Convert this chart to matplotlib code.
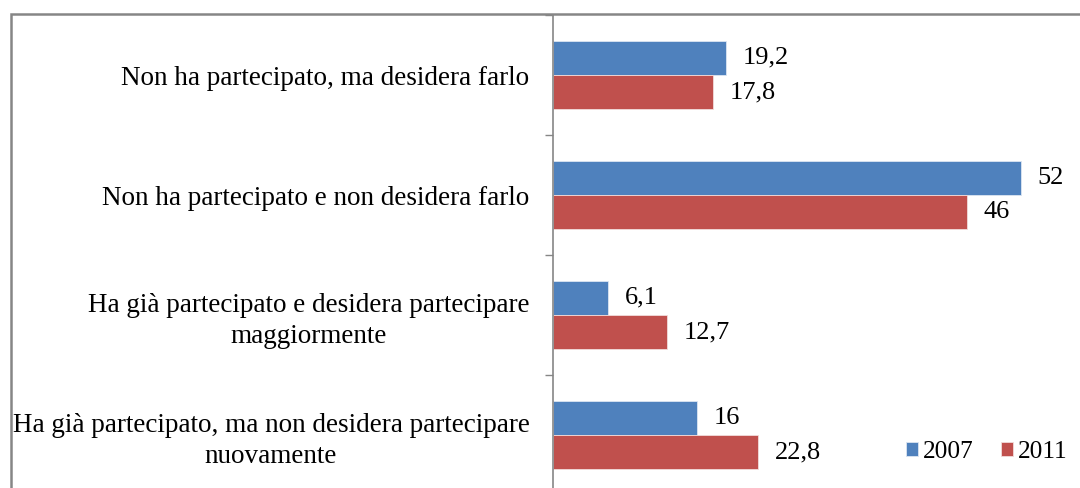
import numpy as np
import matplotlib
matplotlib.use("Agg")
import matplotlib.pyplot as plt
from matplotlib.patches import Rectangle

categories = [
    "Non ha partecipato, ma desidera farlo",
    "Non ha partecipato e non desidera farlo",
    "Ha già partecipato e desidera partecipare\nmaggiormente",
    "Ha già partecipato, ma non desidera partecipare\nnuovamente",
]
series_names = ["2007", "2011"]
values_2007 = [19.2, 52, 6.1, 16]
values_2011 = [17.8, 46, 12.7, 22.8]
value_labels_2007 = ["19,2", "52", "6,1", "16"]
value_labels_2011 = ["17,8", "46", "12,7", "22,8"]

blue = "#4F81BD"
red = "#C0504D"
W, H = 1080, 488
plt.rcParams['font.family'] = ['Liberation Serif', 'DejaVu Serif']

fig = plt.figure(figsize=(W / 100, H / 100), dpi=100)
left_px, top_px, bot_px, right_px = 553, 15, 495, 1093
ax = fig.add_axes([left_px / W, (H - bot_px) / H, (right_px - left_px) / W, (bot_px - top_px) / H])

# outer chart border
fig.patches.append(Rectangle((11 / W, -0.1), 1.2, (H - 14) / H + 0.1, transform=fig.transFigure,
                             fill=False, edgecolor="#868686", linewidth=1.8, zorder=0))

y = np.arange(len(categories))
h = 0.285
b1 = ax.barh(y - h / 2, values_2007, height=h, color=blue, edgecolor="#dce6f2", linewidth=0.6, label=series_names[0])
b2 = ax.barh(y + h / 2, values_2011, height=h, color=red, edgecolor="#f2dcdb", linewidth=0.6, label=series_names[1])

for bars, labs in ((b1, value_labels_2007), (b2, value_labels_2011)):
    for rect, lab in zip(bars, labs):
        ax.annotate(lab, (rect.get_width(), rect.get_y() + rect.get_height() / 2),
                    xytext=(12, 0), textcoords="offset points", va="center", ha="left", fontsize=19)

ax.set_xlim(0, 60)
ax.set_ylim(len(categories) - 0.5, -0.5)
ax.set_yticks(y)
ax.set_yticklabels(categories, fontsize=19.5, multialignment="center", linespacing=1.3)
ax.tick_params(axis="y", which="major", length=0, pad=17)
ax.set_yticks(np.arange(len(categories) + 1) - 0.5, minor=True)
ax.tick_params(axis="y", which="minor", length=6, color="#868686", width=1)
ax.set_xticks([])
for s in ("top", "right", "bottom"):
    ax.spines[s].set_visible(False)
ax.spines["left"].set_color("#868686")
ax.spines["left"].set_linewidth(1.2)

fig.legend(handles=[b1, b2], labels=series_names, loc="center left",
           bbox_to_anchor=(896 / W, (H - 452) / H), ncol=2, frameon=False,
           fontsize=18.3, handlelength=0.47, handleheight=0.47, handletextpad=0.18,
           columnspacing=1.1, borderaxespad=0)

fig.savefig("out.png", dpi=100)
